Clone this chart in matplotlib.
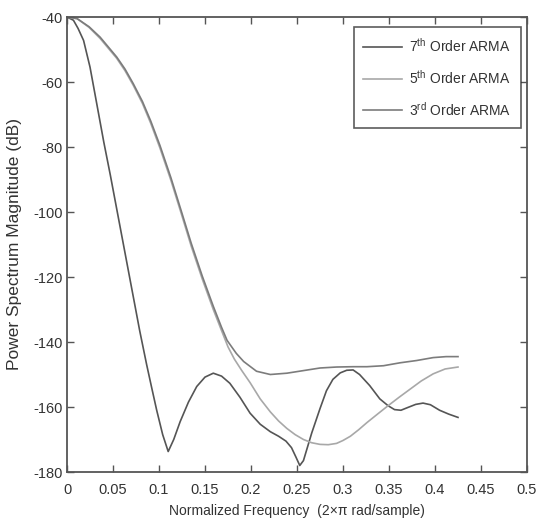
import matplotlib
matplotlib.use('Agg')
import matplotlib.pyplot as plt

plt.rcParams['font.family'] = ['Liberation Sans', 'DejaVu Sans']
plt.rcParams['mathtext.fontset'] = 'custom'
plt.rcParams['mathtext.rm'] = 'Liberation Sans'
plt.rcParams['axes.unicode_minus'] = False

# 7th order ARMA
freq7 = [0, 0.007, 0.012, 0.018, 0.025, 0.033, 0.040, 0.047, 0.054, 0.060, 0.066,
         0.072, 0.079, 0.0866, 0.092, 0.0975, 0.104, 0.110, 0.116, 0.123, 0.132,
         0.141, 0.150, 0.159, 0.168, 0.177, 0.188, 0.199, 0.210, 0.221, 0.230,
         0.238, 0.244, 0.249, 0.253, 0.257, 0.266, 0.275, 0.282, 0.289, 0.297,
         0.304, 0.311, 0.318, 0.329, 0.340, 0.349, 0.356, 0.363, 0.370, 0.379,
         0.387, 0.395, 0.405, 0.415, 0.425]
psd7 = [-40, -41, -43.5, -47.2, -55.4, -67.7, -78.5, -88.5, -99, -108, -117,
        -126, -136.5, -147, -154, -161, -168.5, -173.7, -170, -164.5, -158.5,
        -153.7, -150.8, -149.6, -150.5, -152.7, -157, -161.9, -165.3, -167.6, -169,
        -170.5, -172.5, -175.5, -178, -176.5, -168, -160.5, -155, -151.5, -149.5,
        -148.7, -148.6, -150, -153.4, -157.5, -159.6, -160.8, -161, -160.2, -159.2,
        -158.8, -159.3, -161, -162.2, -163.2]

# 5th order ARMA
freq5 = [0, 0.011, 0.024, 0.036, 0.054, 0.063, 0.072, 0.082, 0.091, 0.101, 0.113,
         0.124, 0.135, 0.147, 0.159, 0.168, 0.175, 0.182, 0.190, 0.199, 0.210,
         0.221, 0.230, 0.239, 0.248, 0.257, 0.266, 0.275, 0.284, 0.293, 0.300,
         0.308, 0.317, 0.326, 0.337, 0.349, 0.361, 0.373, 0.385, 0.398, 0.411, 0.425]
psd5 = [-40, -40.5, -43.2, -46.6, -52.7, -56.5, -61, -66.6, -72.7, -80.3, -90.3,
        -100.3, -110.5, -120.6, -130, -136.5, -141.5, -145.3, -148.8, -152.5, -157.5,
        -161.5, -164.3, -166.6, -168.5, -170, -171, -171.5, -171.6, -171.2, -170.3,
        -169, -167, -164.8, -162.3, -159.6, -157, -154.5, -152, -149.8, -148.3, -147.7]

# 3rd order ARMA
freq3 = [0, 0.011, 0.024, 0.036, 0.054, 0.063, 0.072, 0.082, 0.091, 0.101, 0.113,
         0.124, 0.135, 0.147, 0.159, 0.168, 0.174, 0.184, 0.192, 0.206, 0.221,
         0.239, 0.257, 0.275, 0.293, 0.311, 0.326, 0.344, 0.362, 0.380, 0.398,
         0.412, 0.425]
psd3 = [-40, -40.5, -43, -46.2, -52.3, -56, -60.5, -66, -72, -79.5, -89.5,
        -99.5, -109.6, -119.7, -129, -135.5, -139.5, -143.5, -146, -149, -150,
        -149.6, -148.8, -148, -147.7, -147.6, -147.6, -147.3, -146.4, -145.7, -144.8,
        -144.5, -144.5]

fig = plt.figure(figsize=(5.38, 5.29), dpi=100)
ax = fig.add_axes([67 / 538, 57 / 529, 460 / 538, 455 / 529])

ax.plot(freq7, psd7, color='#555555', lw=1.2, label=r'$\mathregular{7^{th}}$ Order ARMA')
ax.plot(freq5, psd5, color='#a8a8a8', lw=1.2, label=r'$\mathregular{5^{th}}$ Order ARMA')
ax.plot(freq3, psd3, color='#7c7c7c', lw=1.2, label=r'$\mathregular{3^{rd}}$ Order ARMA')

ax.set_xlim(0, 0.5)
ax.set_ylim(-180, -40)
ax.set_xticks([0, 0.05, 0.1, 0.15, 0.2, 0.25, 0.3, 0.35, 0.4, 0.45, 0.5])
ax.set_xticklabels(['0', '0.05', '0.1', '0.15', '0.2', '0.25', '0.3', '0.35', '0.4', '0.45', '0.5'])
ax.set_yticks(range(-180, -39, 20))

ax.tick_params(direction='in', top=True, right=True, length=5, width=1,
               colors='#555555', labelcolor='#333333', labelsize=10.5)
ax.tick_params(axis='x', pad=8)
ax.tick_params(axis='y', pad=3)
for s in ax.spines.values():
    s.set_color('#555555')
    s.set_linewidth(1.3)

ax.set_xlabel(u'Normalized Frequency  (2\u00d7\u03c0 rad/sample)', fontsize=10, color='#333333', labelpad=5)
ax.set_ylabel('Power Spectrum Magnitude (dB)', fontsize=12.5, color='#333333', labelpad=8)

leg = ax.legend(loc='upper right', bbox_to_anchor=(0.987, 0.978), borderaxespad=0,
                fontsize=10, frameon=True, fancybox=False, edgecolor='#333333',
                handlelength=2.8, handletextpad=0.5, labelspacing=1.0, borderpad=0.7)
leg.get_frame().set_linewidth(1.2)
for t in leg.get_texts():
    t.set_color('#333333')

fig.savefig('out.png', dpi=100)
